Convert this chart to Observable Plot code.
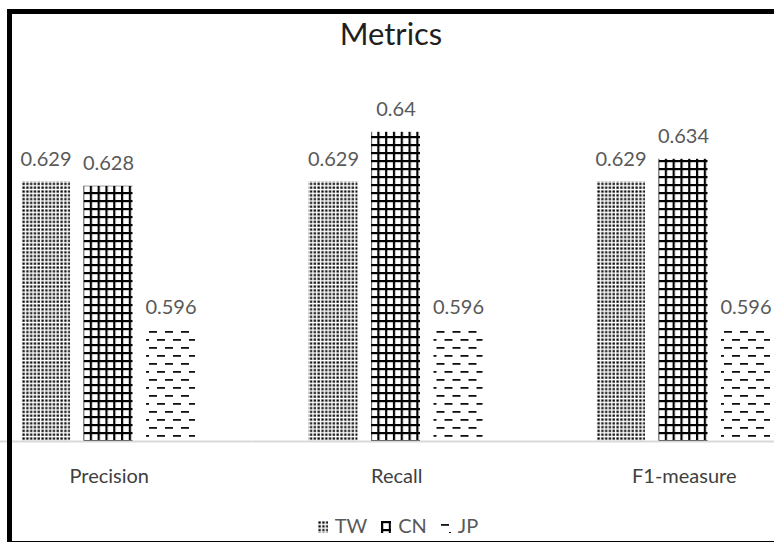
<!DOCTYPE html>
<html>
<head>
<meta charset="utf-8">
<script src="https://cdn.jsdelivr.net/npm/d3@7"></script>
<script src="https://cdn.jsdelivr.net/npm/@observablehq/plot@0.6"></script>
<style>
  html, body { margin: 0; padding: 0; background: #fff; }
  body { width: 774px; height: 542px; overflow: hidden; position: relative; font-family: Lato, "Open Sans", sans-serif; }
  #frame { position: absolute; left: 7px; top: 9px; width: 820px; height: 526.5px; border: 5px solid #000; z-index: 5; pointer-events: none; }
  #title { position: absolute; left: 0; width: 782px; top: 18px; text-align: center; font-size: 31px; line-height: 1; color: #1f1f1f; z-index: 3; }
  #chart { position: absolute; left: 0; top: 0; }
  #legend { position: absolute; left: 0; width: 796px; top: 515px; display: flex; justify-content: center; align-items: baseline; font-size: 20px; line-height: 1; color: #595959; z-index: 3; }
  #legend .item { display: flex; align-items: baseline; margin: 0 7px; }
  #legend svg { margin-right: 7px; }
</style>
</head>
<body>
<svg width="0" height="0" style="position:absolute">
  <defs>
    <pattern id="pTW" patternUnits="userSpaceOnUse" width="3.8" height="3.8">
      <rect x="0.4" y="0.4" width="2.3" height="2.2" fill="#000"></rect>
    </pattern>
    <pattern id="pCN" patternUnits="userSpaceOnUse" width="7.8" height="8">
      <rect x="0" y="0" width="7.8" height="2.2" fill="#000"></rect>
      <rect x="0" y="0" width="2.2" height="8" fill="#000"></rect>
    </pattern>
    <pattern id="pJP" patternUnits="userSpaceOnUse" width="16" height="16">
      <rect x="0" y="3" width="8" height="1.8" fill="#111"></rect>
      <rect x="8" y="11" width="8" height="1.8" fill="#111"></rect>
    </pattern>
  </defs>
</svg>
<div id="frame"></div>
<div id="title">Metrics</div>
<div id="chart"></div>
<div id="legend"></div>
<script>
// ---- data ----
const metrics = ["Precision", "Recall", "F1-measure"];
const series = ["TW", "CN", "JP"];
const twValues = [0.629, 0.629, 0.629];
const cnValues = [0.628, 0.64, 0.634];
const jpValues = [0.596, 0.596, 0.596];
const patternFills = ["url(#pTW)", "url(#pCN)", "url(#pJP)"];

const valuesBySeries = {TW: twValues, CN: cnValues, JP: jpValues};
const data = metrics.flatMap((m, i) => series.map(s => ({metric: m, series: s, value: valuesBySeries[s][i]})));

const yDomain = [0.5713, 0.6424];
const yBase = yDomain[0];

const chart = Plot.plot({
  width: 774,
  height: 542,
  marginTop: 0,
  marginLeft: 0,
  marginRight: 0,
  marginBottom: 101,
  style: {fontFamily: "Lato, 'Open Sans', sans-serif", fontSize: "20px", color: "#404040", background: "transparent", overflow: "visible"},
  fx: {domain: metrics, range: [-35, 827.5], padding: 0, round: false, label: null, axis: "bottom", tickSize: 0, tickPadding: 27},
  x: {domain: series, range: [42.5, 243.5], padding: 0.216, round: false, axis: null},
  y: {domain: yDomain, range: [441, 121], axis: null},
  color: {domain: series, range: patternFills},
  marks: [
    Plot.barY(data, {fx: "metric", x: "series", y1: yBase, y2: "value", fill: "series"}),
    Plot.ruleY([yBase], {stroke: "#d9d9d9", strokeWidth: 2}),
    Plot.text(data, {fx: "metric", x: "series", y: "value", text: d => String(d.value), lineAnchor: "bottom", dy: -16, fill: "#595959", fontSize: 20})
  ]
});
document.getElementById("chart").appendChild(chart);

// ---- legend ----
const legend = document.getElementById("legend");
series.forEach((s, i) => {
  const item = document.createElement("div");
  item.className = "item";
  item.innerHTML = `<svg width="10" height="12" style="vertical-align:baseline"><rect width="10" height="12" fill="${patternFills[i]}"></rect></svg><span>${s}</span>`;
  legend.appendChild(item);
});
</script>
</body>
</html>
